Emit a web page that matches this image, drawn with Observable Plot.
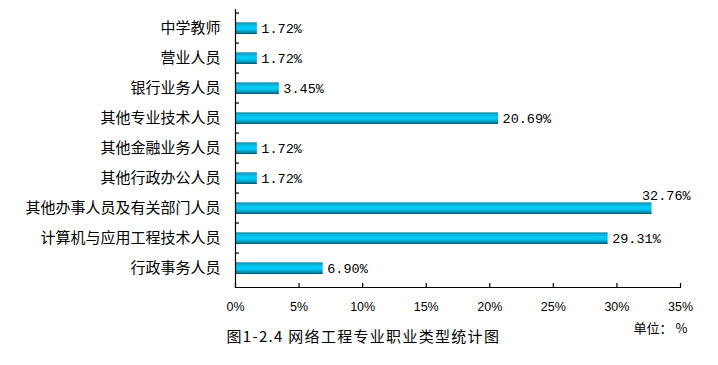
<!DOCTYPE html>
<html>
<head>
<meta charset="utf-8">
<script src="https://cdn.jsdelivr.net/npm/d3@7"></script>
<script src="https://cdn.jsdelivr.net/npm/@observablehq/plot@0.6"></script>
<style>
  html, body { margin: 0; padding: 0; background: #fff; }
  #chart { width: 718px; height: 365px; }
</style>
</head>
<body>
<div id="chart"></div>
<script>
const categories = ["中学教师", "营业人员", "银行业务人员", "其他专业技术人员", "其他金融业务人员", "其他行政办公人员", "其他办事人员及有关部门人员", "计算机与应用工程技术人员", "行政事务人员"];
const values = [1.72, 1.72, 3.45, 20.69, 1.72, 1.72, 32.76, 29.31, 6.90];
const xTicks = [0, 5, 10, 15, 20, 25, 30, 35];
const captionText = "图1-2.4 网络工程专业职业类型统计图";
const unitText = "单位： %";

const data = categories.map((c, i) => ({category: c, value: values[i]}));
const maxValue = d3.max(values);
const cjk = "'Noto Sans CJK SC', 'Noto Sans', sans-serif";
const mono = "'Liberation Mono', 'DejaVu Sans Mono', monospace";

const chart = Plot.plot({
  width: 718,
  height: 365,
  marginLeft: 235,
  marginRight: 38,
  marginTop: 9,
  marginBottom: 78,
  style: {fontFamily: cjk, background: "#fff", color: "#000"},
  x: {domain: [0, 35], ticks: xTicks},
  y: {domain: categories, padding: 0},
  marks: [
    Plot.barX(data, {
      y: "category", x: "value",
      fill: "url(#barGrad)", insetTop: 9, insetBottom: 9
    }),
    // frame lines
    Plot.frame({anchor: "left", stroke: "#000", strokeWidth: 1.2}),
    Plot.frame({anchor: "bottom", stroke: "#000", strokeWidth: 1.2}),
    // y ticks at band boundaries (inward)
    Plot.tickY(categories, {y: d => d, dy: -15.45, stroke: "#000", strokeWidth: 1.2, insetRight: 441}),
    // x tick labels and inward tick marks
    Plot.axisX({ticks: xTicks, tickSize: 0, tickPadding: 15, tickFormat: d => d + "%", fontSize: 12.5, fontFamily: "'Liberation Sans', sans-serif", label: null}),
    Plot.tickX(xTicks, {x: d => d, stroke: "#000", strokeWidth: 1.2, insetTop: 274}),
    Plot.axisY({tickSize: 0, tickPadding: 15, fontSize: 15, label: null}),
    // value labels
    Plot.text(data.filter(d => d.value !== maxValue), {
      y: "category", x: "value", text: d => d.value.toFixed(2) + "%",
      textAnchor: "start", dx: 4, fontSize: 13.5, fontFamily: mono, fill: "#000"
    }),
    Plot.text(data.filter(d => d.value === maxValue), {
      y: "category", x: "value", text: d => d.value.toFixed(2) + "%",
      textAnchor: "start", dx: -10, dy: -13, fontSize: 13.5, fontFamily: mono, fill: "#000"
    }),
    Plot.text([captionText], {
      text: d => d, frameAnchor: "bottom-left", textAnchor: "start",
      dx: -9, dy: 54, fontSize: 15, fill: "#000"
    }),
    Plot.text([unitText], {
      text: d => d, frameAnchor: "bottom-right", textAnchor: "end",
      dx: 7, dy: 45, fontSize: 13, fill: "#000"
    })
  ]
});

// gradient definition for the cylinder-like bars
const svg = d3.select(chart);
const defs = svg.insert("defs", ":first-child");
const grad = defs.append("linearGradient")
  .attr("id", "barGrad").attr("x1", 0).attr("y1", 0).attr("x2", 0).attr("y2", 1);
[
  [0, "#8fc4d4"], [0.1, "#1898bb"], [0.4, "#00cdf8"], [0.6, "#00c8f2"],
  [0.85, "#0090b2"], [1, "#00506a"]
].forEach(([o, c]) => grad.append("stop").attr("offset", o).attr("stop-color", c));

// caption letter spacing to match the reference's wider CJK rendering
svg.selectAll("text").filter(function() { return this.textContent === captionText; })
  .style("letter-spacing", "1.3px");

document.getElementById("chart").appendChild(chart);
</script>
</body>
</html>
